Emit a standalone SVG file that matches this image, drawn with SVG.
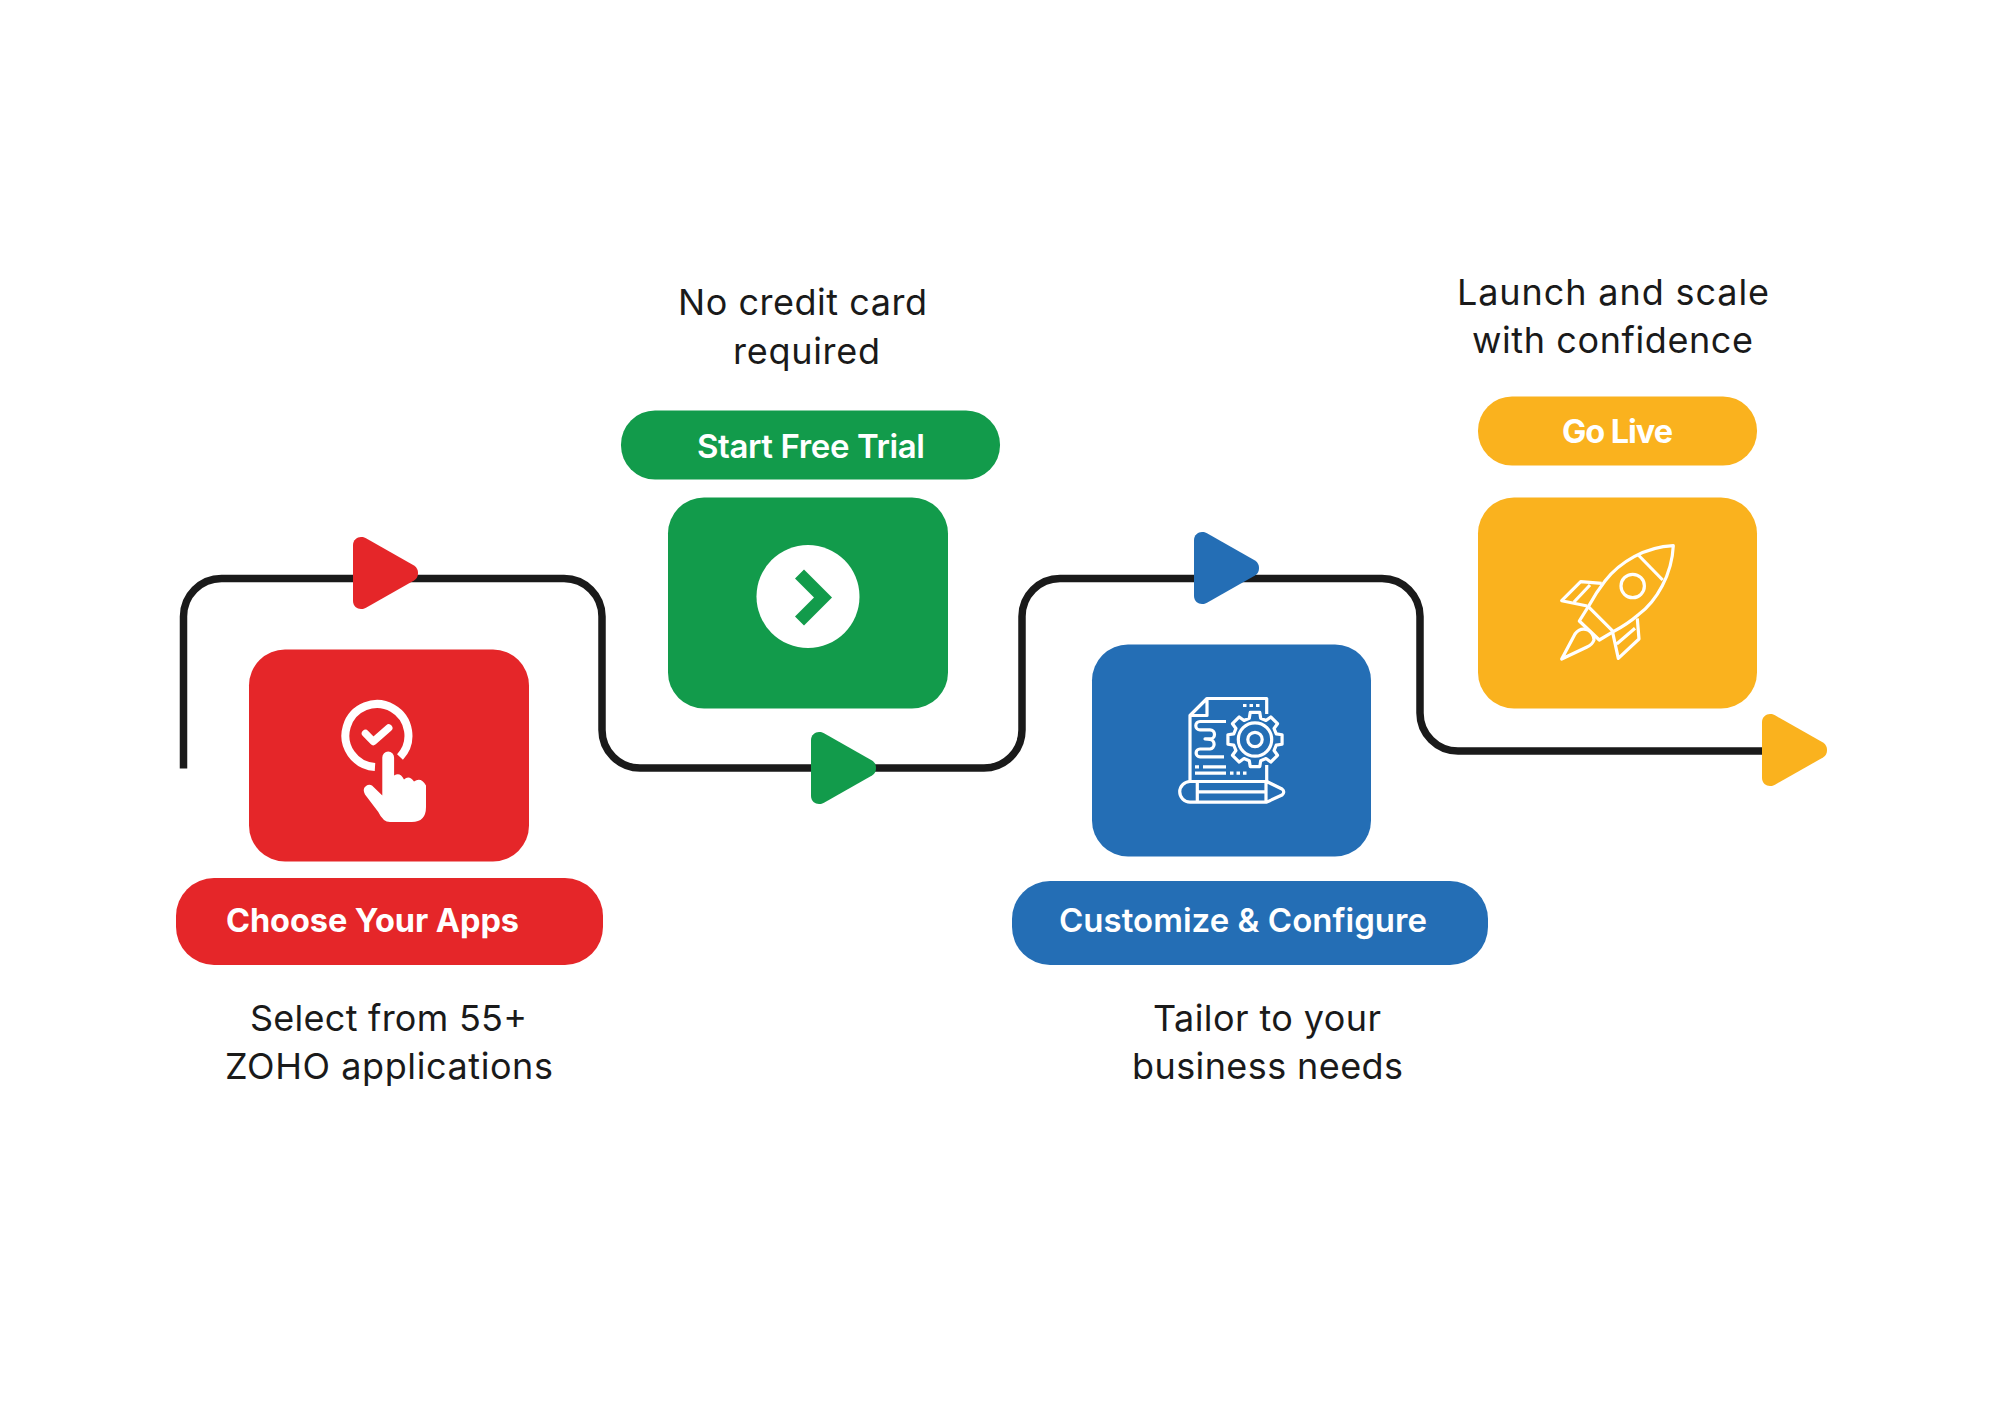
<svg xmlns="http://www.w3.org/2000/svg" width="2000" height="1414" viewBox="0 0 2000 1414">
<style>
.red{fill:#e52629}.green{fill:#129b4b}.blue{fill:#246eb5}.yellow{fill:#fab21e}
.body{font-family:"Inter","Liberation Sans",sans-serif;font-size:36px;font-weight:400;fill:#1a1a1a}
.label{font-family:"Inter","Liberation Sans",sans-serif;font-size:33px;font-weight:600;fill:#fff}
.heavy{font-weight:700;font-size:32.5px}
.line{fill:none;stroke:#1a1a1a;stroke-width:7.5}
.ic{fill:none;stroke:#fff;stroke-width:3.2;stroke-linejoin:round}
</style>
<defs>
<path id="tri" d="M0 -28C0 -33 4 -36 8 -36C10 -36 11.5 -35.5 13 -34.7L61 -7.5C64 -5.5 65 -3 65 0C65 3 64 5.5 61 7.5L13 34.7C11.5 35.5 10 36 8 36C4 36 0 33 0 28Z"/>
</defs>
<rect width="2000" height="1414" fill="#fff"/>
<g id="connectors">
<path class="line" d="M183.5 768.500V616.500a38 38 0 0 1 38-38H564a38 38 0 0 1 38 38V730a38 38 0 0 0 38 38H984a38 38 0 0 0 38-38V616.500a38 38 0 0 1 38-38H1382a38 38 0 0 1 38 38V713a38 38 0 0 0 38 38H1770"/>
<use href="#tri" class="red" x="353" y="573"/>
<use href="#tri" class="green" x="811" y="768"/>
<use href="#tri" class="blue" x="1194" y="568"/>
<use href="#tri" class="yellow" x="1762" y="750"/>
</g>
<g id="node-choose">
<rect class="red" x="249" y="649.500" width="280" height="212" rx="36"/>
<path d="M375 767A31.500 31.500 0 1 1 400 757" fill="none" stroke="#fff" stroke-width="8"/>
<path d="M365.500 733.500L373.300 741.500L388.700 728" fill="none" stroke="#fff" stroke-width="7.500" stroke-linecap="round" stroke-linejoin="round"/>
<path fill="#fff" d="M382.300 757.500a5.900 5.900 0 0 1 11.800 0V775.500Q400 771.500 404 779.500Q409 774.500 414 781.500Q421 776.500 426 785.500V807Q426 822 411.700 822H390Q383 822 378.300 812L365 794.500Q362 788.500 366 786Q369 784 372 785.500L382.300 795.500Z"/>
<rect class="red" x="176" y="878" width="427" height="87" rx="38"/>
<text class="label heavy" x="226" y="932" textLength="293" lengthAdjust="spacing">Choose Your Apps</text>
<text class="body" x="250" y="1030.500" textLength="277" lengthAdjust="spacing">Select from 55+</text>
<text class="body" x="225" y="1078.500" textLength="328" lengthAdjust="spacing">ZOHO applications</text>
</g>
<g id="node-trial">
<text class="body" x="678" y="314.500" textLength="249" lengthAdjust="spacing">No credit card</text>
<text class="body" x="733" y="363.500" textLength="147" lengthAdjust="spacing">required</text>
<rect class="green" x="621" y="410.500" width="379" height="69" rx="34"/>
<text class="label" x="697" y="458" textLength="228" lengthAdjust="spacing">Start Free Trial</text>
<rect class="green" x="668" y="497.500" width="280" height="211" rx="36"/>
<circle cx="808" cy="596.500" r="51.500" fill="#fff"/>
<path class="green" d="M795 578.500L804 569.500L832 597.500L804 625.500L795 616.500L814 597.500Z"/>
</g>
<g id="node-customize">
<rect class="blue" x="1092" y="644.500" width="279" height="212" rx="36"/>
<g class="ic">
<path d="M1190 781V715.500L1207 698.500H1266.700V714M1207 698.500V715.500H1190M1266.700 765V781"/>
<path d="M1243 705.500H1260" stroke-dasharray="3.500 3"/>
<path d="M1226 721.500H1200a4.200 4.200 0 0 0 0 8.400H1210a4.500 4.500 0 0 1 0 9H1205L1210 739.500a4.800 4.800 0 0 1 0 9.500H1200a3.900 3.900 0 0 0 0 7.800H1224"/>
<path d="M1195 766.800H1199M1203 766.800H1226M1195 773.200H1226"/>
<path d="M1230 773.200H1247" stroke-dasharray="3.500 3"/>
<path transform="translate(1255 739.500)" d="M21.250 -5.690L27.080 -4.780L27.080 4.780L21.250 5.690L19.050 11L22.530 15.770L15.770 22.530L11 19.050L5.690 21.250L4.780 27.080L-4.780 27.080L-5.690 21.250L-11 19.050L-15.770 22.530L-22.530 15.770L-19.050 11L-21.250 5.690L-27.080 4.780L-27.080 -4.780L-21.250 -5.690L-19.050 -11L-22.530 -15.770L-15.770 -22.530L-11 -19.050L-5.690 -21.250L-4.780 -27.080L4.780 -27.080L5.690 -21.250L11 -19.050L15.770 -22.530L22.530 -15.770L19.050 -11Z"/>
<circle cx="1255" cy="739.500" r="16.700"/>
<circle cx="1255" cy="739.500" r="7.200"/>
<path d="M1266.700 781.500H1190a10.300 10.300 0 0 0 0 20.600H1266.700L1282 795Q1285.500 791.800 1282 789ZM1197.300 781.500V802.100M1266 781.500V802.100M1197.300 791.800H1266"/>
</g>
<rect class="blue" x="1015" y="881" width="478" height="84" rx="38" style="transform:translate(-3px,0);width:476px"/>
<text class="label" x="1059" y="932" textLength="368" lengthAdjust="spacing">Customize &amp; Configure</text>
<text class="body" x="1153" y="1030.500" textLength="228" lengthAdjust="spacing">Tailor to your</text>
<text class="body" x="1132" y="1078.500" textLength="271" lengthAdjust="spacing">business needs</text>
</g>
<g id="node-golive">
<text class="body" x="1457" y="305" textLength="312" lengthAdjust="spacing">Launch and scale</text>
<text class="body" x="1472" y="353" textLength="281" lengthAdjust="spacing">with confidence</text>
<rect class="yellow" x="1478" y="396.500" width="279" height="69" rx="34"/>
<text class="label heavy" x="1562" y="442.500" textLength="111" lengthAdjust="spacing">Go Live</text>
<rect class="yellow" x="1478" y="497.500" width="279" height="211" rx="36"/>
<g class="ic">
<path d="M1673.300 545.700C1645 547 1620 562 1605 581C1598 590 1593 598 1588.300 606.700L1613.300 631.700C1622 627 1630 622 1638 615C1657 601 1672 574 1673.300 545.700Z"/>
<path d="M1638.300 555L1662.700 580"/>
<circle cx="1632.700" cy="586" r="11.700"/>
<path d="M1588.300 606.700L1579.300 621L1599.300 640L1613.300 631.700"/>
<path d="M1561.700 659L1575 634Q1580 627 1588 630Q1594 634 1594 640Q1592 645 1587 647Z"/>
<path d="M1601.700 583.300L1580.700 581.700L1561.700 600.700L1587.300 606M1590 585L1574 602"/>
<path d="M1637.300 618.300L1639 639L1618.300 658.300L1612.700 632.700M1635 628.300L1616.700 644"/>
</g>
</g>
</svg>
